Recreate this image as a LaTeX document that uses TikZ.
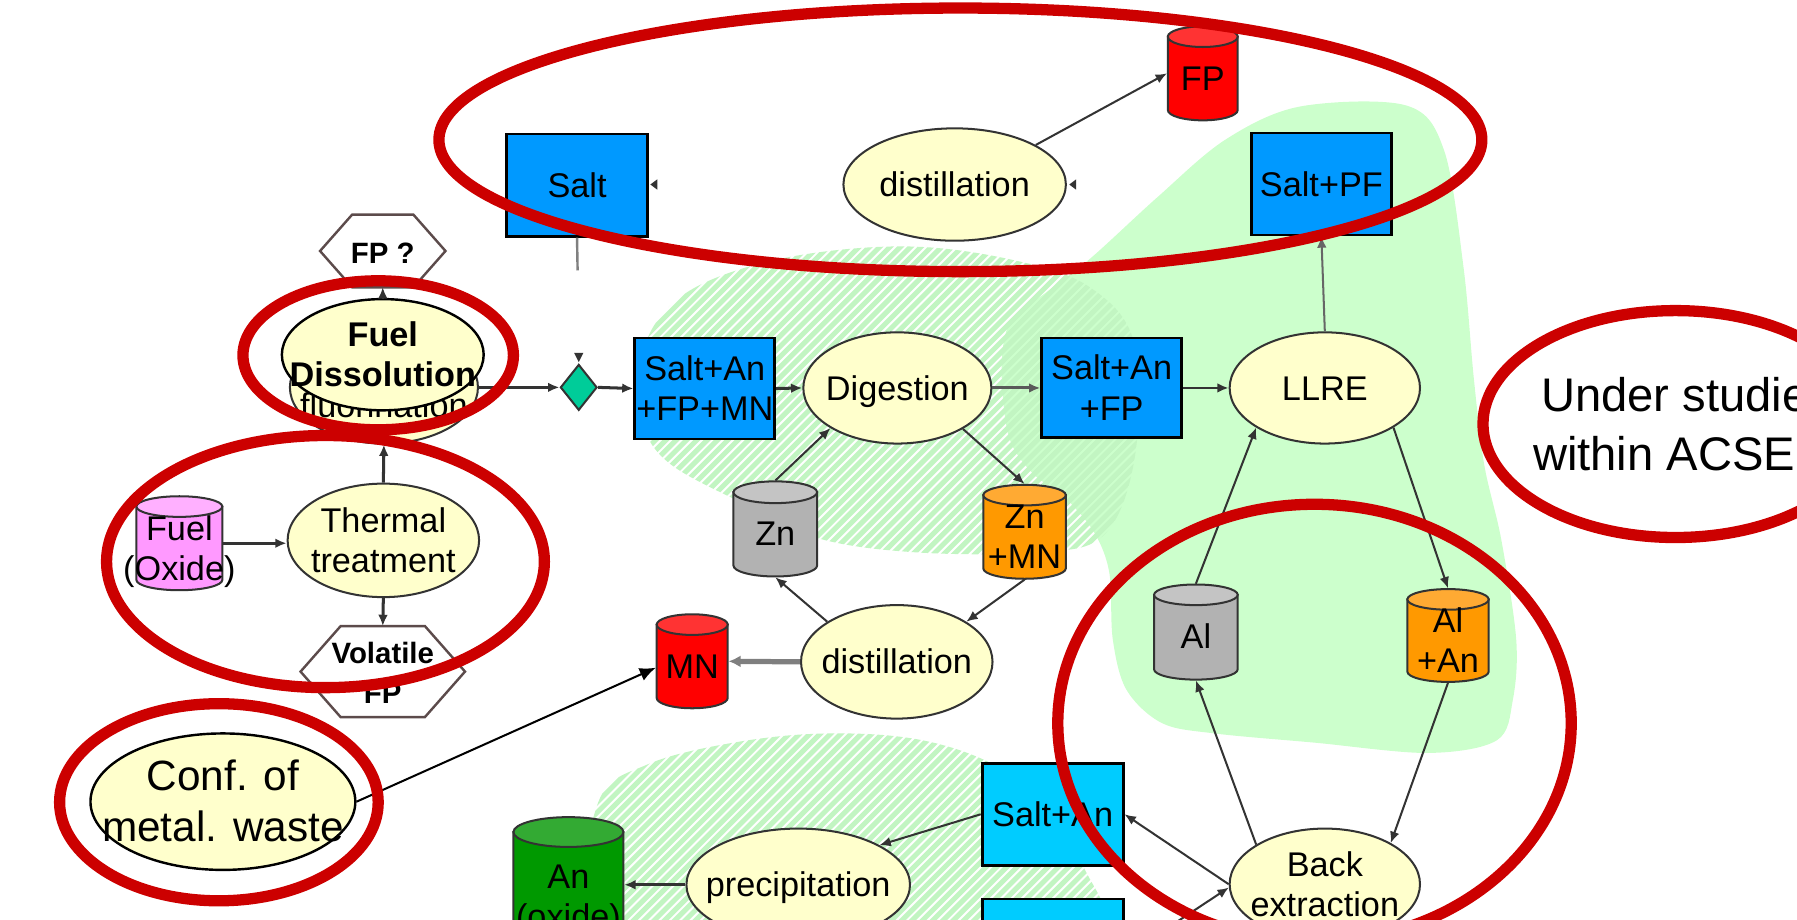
\documentclass[tikz,border=0pt]{standalone}
\usepackage{fontspec}
\setmainfont{Liberation Sans}
\usetikzlibrary{shapes.geometric,arrows.meta,calc}

\definecolor{procfill}{HTML}{FFFFCC}
\definecolor{boxblue}{HTML}{0099FF}
\definecolor{boxcyan}{HTML}{00CCFF}
\definecolor{redring}{HTML}{CC0000}
\definecolor{zone}{HTML}{CCFFCC}
\definecolor{hatchc}{HTML}{C2F5C2}
\definecolor{linec}{HTML}{333333}
\definecolor{thickgrey}{HTML}{7F7F7F}
\definecolor{hexc}{HTML}{5C4B4B}
\definecolor{greyc}{HTML}{B2B2B2}
\definecolor{greytop}{HTML}{C4C4C4}
\definecolor{orangec}{HTML}{FF9900}
\definecolor{orangetop}{HTML}{FFAA33}
\definecolor{redc}{HTML}{FF0000}
\definecolor{redtop}{HTML}{FF3333}
\definecolor{pinkc}{HTML}{FF99FF}
\definecolor{pinktop}{HTML}{FFB0FF}
\definecolor{greenc}{HTML}{009900}
\definecolor{greentop}{HTML}{33AA33}
\definecolor{diac}{HTML}{00CC99}

\newcommand{\ctext}[2][1pt]{\makebox[0pt]{\raisebox{\dimexpr0.5\depth-0.5\height-#1\relax}[0pt][0pt]{\begin{tabular}{@{}c@{}}#2\end{tabular}}}}

\tikzset{
  proc/.style={ellipse, fill=procfill, draw=linec, line width=0.5pt, inner sep=0pt, font=\fontsize{8.5}{10}\selectfont},
  stock/.style={rectangle, fill=boxblue, draw=black, line width=0.7pt, inner sep=0pt, font=\fontsize{8.5}{10}\selectfont},
  cylnode/.style={rectangle, draw=none, inner sep=0pt, font=\fontsize{8.5}{10}\selectfont},
  cylline/.style={draw=linec, line width=0.5pt},
  hextext/.style={rectangle, draw=none, inner sep=0pt, font=\bfseries\fontsize{7.3}{10}\selectfont},
  hexa/.style={draw=hexc, line width=0.6pt},
  conn/.style={draw=linec, line width=0.5pt, -{Latex[length=2.8pt,width=2.4pt]}},
  mainconn/.style={conn, line width=0.75pt},
  thickconn/.style={draw=thickgrey, line width=1.3pt, -{Latex[length=3pt,width=3pt]}},
  bigconn/.style={draw=black, line width=0.5pt, -{Latex[length=4pt,width=3.4pt]}},
  ring/.style={draw=redring, line width=2.8pt},
  hatchline/.style={draw=hatchc, line width=1.25pt},
}

% name, left, top, width, height, ry, body colour, top colour, text
\newcommand{\drawcyl}[9]{%
  \pgfmathsetmacro\cylxr{#2+#4}%
  \pgfmathsetmacro\cylxm{#2+#4/2}%
  \pgfmathsetmacro\cylrx{#4/2}%
  \pgfmathsetmacro\cylyt{#3+#6}%
  \pgfmathsetmacro\cylyb{#3+#5-#6}%
  \pgfmathsetmacro\cylym{#3+#5/2}%
  \pgfmathsetmacro\cylw{#4/100}%
  \pgfmathsetmacro\cylh{#5/100}%
  \filldraw[fill=#7, cylline] (#2,\cylyt) -- (#2,\cylyb) arc[start angle=180, end angle=0, x radius=\cylrx, y radius=#6] -- (\cylxr,\cylyt) -- cycle;
  \filldraw[fill=#8, cylline] (\cylxm,\cylyt) ellipse[x radius=\cylrx, y radius=#6];
  \node[cylnode, minimum width=\cylw cm, minimum height=\cylh cm] (#1) at (\cylxm,\cylym) {\ctext[2.2pt]{#9}};
}

\begin{document}
\begin{tikzpicture}[x=0.01cm,y=-0.01cm]
\useasboundingbox (0,0) rectangle (1568,802);
\clip (0,0) rectangle (1568,802);

% solid light-green zone
\fill[zone] plot[smooth cycle, tension=0.55] coordinates {(1069,122) (1134,93) (1227,92) (1260,131) (1277,233) (1286,330) (1295,405) (1310,471) (1323,558) (1320,611) (1306,646) (1246,657) (1147,648) (1060,640) (1014,631) (983,602) (971,558) (968,500) (955,465) (930,435) (900,412) (880,380) (874,320) (882,280) (913,255) (952,225) (1010,172)};

% hatched zone around digestion
\begin{scope}
\clip plot[smooth cycle, tension=0.6] coordinates {(556,330) (572,282) (612,248) (690,224) (790,215) (880,226) (950,250) (990,300) (990,400) (962,468) (900,482) (800,482) (715,470) (650,440) (585,405) (560,370)};
\foreach \a in {180,189,...,960} \draw[hatchline] (\a,560) -- ++(560,-560);
\end{scope}

% hatched zone around precipitation
\begin{scope}
\clip plot[smooth cycle, tension=0.6] coordinates {(522,700) (565,667) (640,648) (720,640) (800,645) (865,666) (910,700) (945,755) (955,815) (800,830) (600,830) (515,800)};
\foreach \a in {240,249,...,880} \draw[hatchline] (\a,900) -- ++(400,-400);
\end{scope}

% process ellipses
\node[proc, minimum width=1.94cm, minimum height=0.98cm] (disttop) at (833,161) {\ctext{distillation}};
\node[proc, minimum width=1.64cm, minimum height=0.97cm] (digest) at (783,338.5) {\ctext{Digestion}};
\node[proc, minimum width=1.66cm, minimum height=0.97cm] (llre) at (1156,338.5) {\ctext{LLRE}};
\node[proc, minimum width=1.67cm, minimum height=0.99cm] (distmid) at (782.5,577.5) {\ctext{distillation}};
\node[proc, minimum width=1.67cm, minimum height=0.99cm] (thermal) at (334.5,471.5) {\ctext{Thermal\\treatment}};
\node[proc, minimum width=1.66cm, minimum height=0.97cm] (backx) at (1156,771.5) {\ctext{Back\\extraction}};
\node[proc, minimum width=1.95cm, minimum height=0.98cm] (precip) at (696.5,772) {\ctext{precipitation}};
\node[proc, minimum width=1.64cm, minimum height=0.98cm] (fluor) at (335,338) {};
\node[font=\fontsize{8.5}{10}\selectfont, inner sep=0pt] (fluortext) at (335,354) {fluorination};
\node[proc, draw=black, line width=0.6pt, minimum width=1.76cm, minimum height=0.97cm, font=\bfseries\fontsize{8.5}{9.8}\selectfont] (fueldis) at (334,309.5) {\ctext{Fuel\\Dissolution}};
\node[proc, draw=black, line width=0.6pt, minimum width=2.31cm, minimum height=1.19cm, font=\fontsize{10.5}{12.8}\selectfont] (conf) at (194.5,699.5) {\ctext{Conf. of\\metal. waste}};

% salt boxes
\node[stock, minimum width=1.23cm, minimum height=0.89cm] (salt) at (503.5,161.5) {\ctext{Salt}};
\node[stock, minimum width=1.22cm, minimum height=0.89cm] (saltpf) at (1153,160.5) {\ctext{Salt+PF}};
\node[stock, minimum width=1.22cm, minimum height=0.88cm] (sanfpmn) at (615,339) {\ctext{Salt+An\\+FP+MN}};
\node[stock, minimum width=1.22cm, minimum height=0.87cm] (sanfp) at (970,338.5) {\ctext{Salt+An\\+FP}};
\node[stock, fill=boxcyan, minimum width=1.23cm, minimum height=0.89cm] (sanb) at (918.5,710.5) {\ctext{Salt+An}};
\node[stock, fill=boxcyan, minimum width=1.23cm, minimum height=0.89cm] (box2) at (918.5,829) {};

% decision diamond
\node[diamond, fill=diac, draw=linec, line width=0.5pt, inner sep=0pt, minimum width=0.32cm, minimum height=0.40cm] (dia) at (505,338) {};

% hexagons
\node[hextext, minimum width=1.08cm, minimum height=0.62cm] (fpq) at (334,219) {\ctext{FP ?}};
\draw[hexa] (fpq.west) -- ($(fpq.north west)+(28,0)$) -- ($(fpq.north east)+(-28,0)$) -- (fpq.east) -- ($(fpq.south east)+(-28,0)$) -- ($(fpq.south west)+(28,0)$) -- cycle;
\node[hextext, minimum width=1.42cm, minimum height=0.78cm] (vfp) at (334,586) {\ctext{Volatile\\FP}};
\draw[hexa] (vfp.west) -- ($(vfp.north west)+(35,0)$) -- ($(vfp.north east)+(-35,0)$) -- (vfp.east) -- ($(vfp.south east)+(-35,0)$) -- ($(vfp.south west)+(35,0)$) -- cycle;

% cylinders
\drawcyl{fp}{1019}{23}{61}{82}{9}{redc}{redtop}{FP}
\drawcyl{zn}{640}{420}{73}{83}{9.5}{greyc}{greytop}{Zn}
\drawcyl{znmn}{858}{423}{72}{82}{9}{orangec}{orangetop}{Zn\\+MN}
\drawcyl{mn}{573}{536}{62}{82}{9}{redc}{redtop}{MN}
\drawcyl{al}{1007}{510}{73}{83}{9}{greyc}{greytop}{Al}
\drawcyl{alan}{1228}{514}{71}{81}{9}{orangec}{orangetop}{Al\\+An}
\drawcyl{fuel}{119}{433}{75}{82}{9}{pinkc}{pinktop}{Fuel\\(Oxide)}
\drawcyl{anox}{448}{713}{96}{130}{13}{greenc}{greentop}{An\\(oxide)}

% connectors
\coordinate (saltend) at (504,236);
\draw[draw=gray, line width=0.6pt] (salt.south) -- (saltend);
\draw[conn] (disttop.26) -- (fp.west);
\draw[conn] (fueldis.north) -- (fpq.south);
\draw[mainconn] (fluor.east) -- (dia.west);
\draw[mainconn] (dia.east) -- (sanfpmn.west);
\draw[mainconn] (sanfpmn.east) -- (digest.west);
\draw[mainconn, draw=gray!70!black] (digest.east) -- (sanfp.west);
\draw[conn, line width=0.6pt] (sanfp.east) -- (llre.west);
\draw[conn, draw=gray!80!black] (llre.north) -- (saltpf.south);
\draw[conn] (zn.north) -- (digest.211);
\draw[conn] (digest.328) -- (znmn.north);
\draw[conn] (znmn.south) -- (distmid.30);
\draw[conn] (distmid.150) -- (zn.south);
\draw[thickconn] (distmid.west) -- (mn.east);
\draw[bigconn] (conf.east) -- (mn.190);
\draw[mainconn] (fuel.east) -- (fuel.east -| thermal.west);
\draw[mainconn] (thermal.north) -- (fluor.south);
\draw[mainconn] (thermal.south) -- (vfp.north);
\draw[conn] (al.north) -- (llre.210);
\draw[conn] (llre.330) -- (alan.north);
\draw[conn] (backx.150) -- (al.south);
\draw[conn] (alan.south) -- (backx.32);
\draw[conn] (backx.west) -- (sanb.east);
\draw[conn] (box2.355) -- (backx.182);
\draw[conn] (sanb.west) -- (precip.26);
\draw[mainconn] (precip.west) -- (precip.west -| anox.east);

% loose arrow tips
\fill[linec] (567.5,161) -- (573.5,156.5) -- (573.5,165.5) -- cycle;
\fill[linec] (933,161) -- (939,156.5) -- (939,165.5) -- cycle;
\fill[linec] (505,316) -- (501,308) -- (509,308) -- cycle;

% red rings
\draw[ring] (838,122) ellipse[x radius=455, y radius=115];
\draw[ring] (330,310) ellipse[x radius=118, y radius=65];
\draw[ring] (284,490) ellipse[x radius=191, y radius=110];
\draw[ring] (191,700) ellipse[x radius=139, y radius=86];
\draw[ring] (1462,370) ellipse[x radius=168, y radius=99];
\draw[ring] (1147,631) ellipse[x radius=224, y radius=191];

\node[anchor=west, align=left, inner sep=0pt, font=\fontsize{11.7}{14.8}\selectfont] (under) at (1337,370) {\hspace*{0.07cm}Under studies\\within ACSE};
\end{tikzpicture}
\end{document}
